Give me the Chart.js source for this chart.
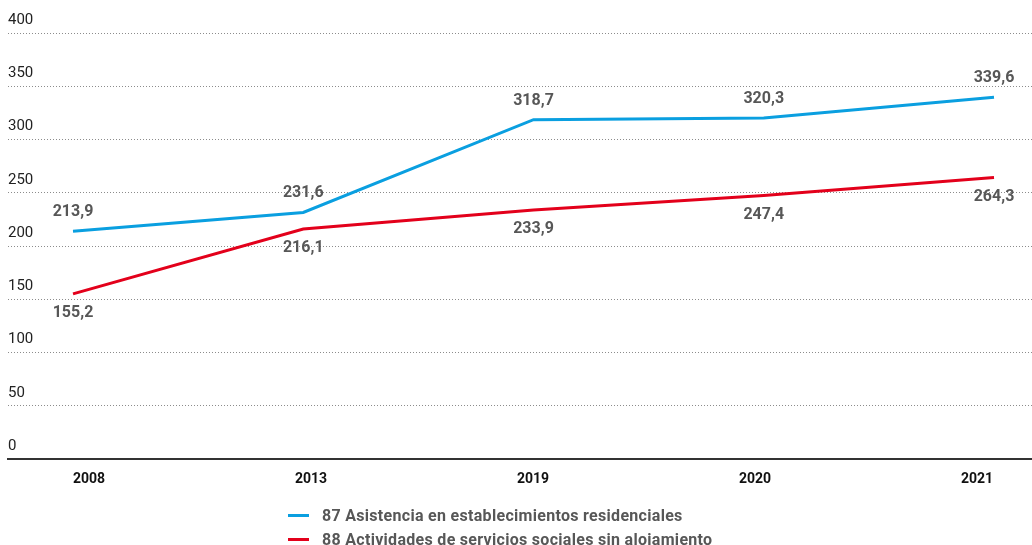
<!DOCTYPE html>
<html lang="es">
<head>
<meta charset="utf-8">
<script src="https://cdn.jsdelivr.net/npm/chart.js@4.4.1/dist/chart.umd.min.js"></script>
<style>
  html, body { margin: 0; padding: 0; background: #fff; }
  #wrap { position: relative; width: 1032px; height: 545px; }
  #box { position: absolute; left: 0; top: 0; width: 1032px; height: 505px; }
  #legend { position: absolute; left: 288px; top: 503px; font: bold 16px Roboto, sans-serif; letter-spacing: 0.3px; color: #575757; }
  .item { display: flex; align-items: center; height: 24px; }
  .swatch { width: 21px; height: 3px; margin-right: 13px; }
</style>
</head>
<body>
<div id="wrap">
  <div id="box"><canvas id="chart"></canvas></div>
  <div id="legend"></div>
</div>
<script>
var years = ["2008", "2013", "2019", "2020", "2021"];
var residencial = [213.9, 231.6, 318.7, 320.3, 339.6];
var sinAlojamiento = [155.2, 216.1, 233.9, 247.4, 264.3];
var seriesNames = [
  "87 Asistencia en establecimientos residenciales",
  "88 Actividades de servicios sociales sin aloiamiento"
];
var seriesColors = ["#0a9fe0", "#e3001b"];

function fmt(v) {
  return v.toFixed(1).replace(".", ",");
}

function points(values) {
  return values.map(function (v, i) { return { x: i, y: v }; });
}

// value labels: first series above the line, second below
var valueLabels = {
  id: "valueLabels",
  afterDatasetsDraw: function (chart) {
    var ctx = chart.ctx;
    ctx.save();
    ctx.font = "bold 16px Roboto, sans-serif";
    ctx.fillStyle = "#575757";
    ctx.textAlign = "center";
    ctx.textBaseline = "middle";
    chart.data.datasets.forEach(function (ds, di) {
      var meta = chart.getDatasetMeta(di);
      var off = di === 0 ? -19 : 19;
      meta.data.forEach(function (pt, i) {
        ctx.fillText(fmt(ds.data[i].y), pt.x, pt.y + off);
      });
    });
    ctx.restore();
  }
};

var chart = new Chart(document.getElementById("chart"), {
  type: "line",
  data: {
    datasets: [
      {
        label: seriesNames[0],
        data: points(residencial),
        borderColor: seriesColors[0],
        borderWidth: 3,
        pointRadius: 0,
        tension: 0,
      },
      {
        label: seriesNames[1],
        data: points(sinAlojamiento),
        borderColor: seriesColors[1],
        borderWidth: 3,
        pointRadius: 0,
        tension: 0,
      },
    ],
  },
  options: {
    responsive: true,
    maintainAspectRatio: false,
    animation: false,
    layout: { padding: { left: 8, right: 0, top: 33, bottom: 5 } },
    plugins: {
      legend: { display: false },
      tooltip: { enabled: false },
    },
    scales: {
      x: {
        type: "linear",
        min: -0.2823,
        max: 4.165,
        display: false,
      },
      x2: {
        type: "linear",
        position: "bottom",
        min: -0.3649,
        max: 4.2477,
        grid: { display: false, drawTicks: false },
        border: { display: true, color: "#333", width: 2 },
        afterBuildTicks: function (axis) {
          axis.ticks = years.map(function (y, i) { return { value: i }; });
        },
        ticks: {
          padding: 12,
          autoSkip: false,
          maxRotation: 0,
          color: "#111",
          font: { family: "Roboto, sans-serif", size: 14, weight: "bold" },
          callback: function (v) { return years[v]; },
        },
      },
      y: {
        min: 0,
        max: 400,
        grid: {
          drawTicks: false,
          lineWidth: 1,
          color: function (c) {
            return c.tick && c.tick.value === 0 ? "rgba(0,0,0,0)" : "#8c8c8c";
          },
        },
        border: { display: false, dash: [1, 2] },
        ticks: {
          stepSize: 50,
          mirror: true,
          padding: 0,
          labelOffset: -13,
          color: "#222",
          font: { family: "Roboto, sans-serif", size: 15 },
        },
      },
    },
  },
  plugins: [valueLabels],
});

var legend = document.getElementById("legend");
seriesNames.forEach(function (name, i) {
  legend.innerHTML += '<div class="item"><span class="swatch" style="background:' + seriesColors[i] + '"></span>' + name + "</div>";
});
</script>
</body>
</html>
